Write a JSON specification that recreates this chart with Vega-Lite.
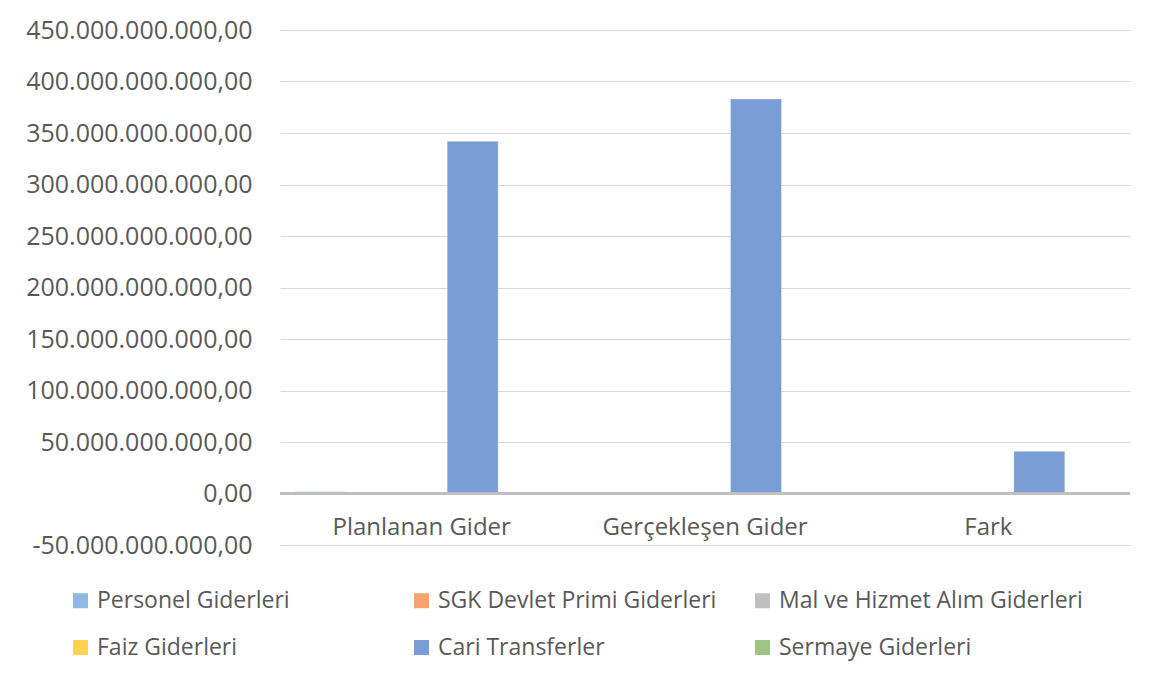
{
  "$schema": "https://vega.github.io/schema/vega-lite/v6.json",
  "autosize": "none",
  "width": 850,
  "height": 515,
  "padding": {"left": 280, "top": 30, "right": 27, "bottom": 139},
  "background": "white",
  "config": {
    "view": {"stroke": null},
    "font": "Open Sans"
  },
  "data": {
    "values": [
      {"kategori": "Planlanan Gider", "seri": "Personel Giderleri", "deger": 1600000000},
      {"kategori": "Planlanan Gider", "seri": "SGK Devlet Primi Giderleri", "deger": 250000000},
      {"kategori": "Planlanan Gider", "seri": "Mal ve Hizmet Alım Giderleri", "deger": 600000000},
      {"kategori": "Planlanan Gider", "seri": "Cari Transferler", "deger": 342000000000},
      {"kategori": "Planlanan Gider", "seri": "Sermaye Giderleri", "deger": 100000000},
      {"kategori": "Gerçekleşen Gider", "seri": "Personel Giderleri", "deger": 1500000000},
      {"kategori": "Gerçekleşen Gider", "seri": "SGK Devlet Primi Giderleri", "deger": 240000000},
      {"kategori": "Gerçekleşen Gider", "seri": "Mal ve Hizmet Alım Giderleri", "deger": 400000000},
      {"kategori": "Gerçekleşen Gider", "seri": "Cari Transferler", "deger": 383000000000},
      {"kategori": "Gerçekleşen Gider", "seri": "Sermaye Giderleri", "deger": 50000000},
      {"kategori": "Fark", "seri": "Personel Giderleri", "deger": -100000000},
      {"kategori": "Fark", "seri": "SGK Devlet Primi Giderleri", "deger": -10000000},
      {"kategori": "Fark", "seri": "Mal ve Hizmet Alım Giderleri", "deger": -200000000},
      {"kategori": "Fark", "seri": "Cari Transferler", "deger": 41000000000},
      {"kategori": "Fark", "seri": "Sermaye Giderleri", "deger": -50000000}
    ]
  },
  "layer": [
    {
      "mark": {"type": "bar", "stroke": "#ffffff", "strokeOpacity": 0.35, "strokeWidth": 1},
      "encoding": {
        "x": {
          "field": "kategori",
          "type": "nominal",
          "sort": ["Planlanan Gider", "Gerçekleşen Gider", "Fark"],
          "scale": {"paddingInner": 0.1, "paddingOuter": 0.05},
          "axis": {
            "title": null,
            "labelAngle": 0,
            "domain": false,
            "ticks": false,
            "labelFontSize": 24,
            "labelColor": "#595959",
            "labelPadding": -30,
            "labelFont": "Open Sans",
            "labelLimit": 400
          }
        },
        "xOffset": {
          "field": "seri",
          "type": "nominal",
          "scale": {
            "domain": ["Personel Giderleri", "SGK Devlet Primi Giderleri", "Mal ve Hizmet Alım Giderleri", "Cari Transferler", "Sermaye Giderleri"],
            "paddingInner": 0,
            "paddingOuter": 0
          }
        },
        "y": {
          "field": "deger",
          "type": "quantitative",
          "scale": {"domain": [-50000000000, 450000000000], "nice": false, "zero": false},
          "axis": {
            "title": null,
            "values": [-50000000000, 0, 50000000000, 100000000000, 150000000000, 200000000000, 250000000000, 300000000000, 350000000000, 400000000000, 450000000000],
            "domain": false,
            "ticks": false,
            "grid": true,
            "gridColor": "#d9d9d9",
            "gridWidth": 1,
            "labelFontSize": 25,
            "labelColor": "#595959",
            "labelPadding": 28,
            "labelFont": "Open Sans",
            "labelLimit": 400,
            "labelExpr": "replace(replace(replace(replace(format(datum.value, ',.2f'), /,/g, '#'), /\\./g, ','), /#/g, '.'), '−', '-')"
          }
        },
        "color": {
          "field": "seri",
          "type": "nominal",
          "scale": {
            "domain": ["Personel Giderleri", "SGK Devlet Primi Giderleri", "Mal ve Hizmet Alım Giderleri", "Faiz Giderleri", "Cari Transferler", "Sermaye Giderleri"],
            "range": ["#8fb8e2", "#f3a46f", "#bfbfbf", "#ffd34f", "#7b9dd6", "#9dc484"]
          },
          "legend": {
            "title": null,
            "orient": "none",
            "legendX": -211,
            "legendY": 559,
            "direction": "horizontal",
            "columns": 3,
            "gridAlign": "all",
            "columnPadding": 9,
            "rowPadding": 23,
            "symbolType": "square",
            "symbolSize": 225,
            "symbolStrokeWidth": 0,
            "labelFontSize": 23,
            "labelColor": "#595959",
            "labelFont": "Open Sans",
            "labelOffset": 5,
            "labelLimit": 400
          }
        }
      }
    },
    {
      "mark": {"type": "rule", "color": "#bfbfbf", "strokeWidth": 3},
      "encoding": {"y": {"datum": 0}}
    }
  ]
}
